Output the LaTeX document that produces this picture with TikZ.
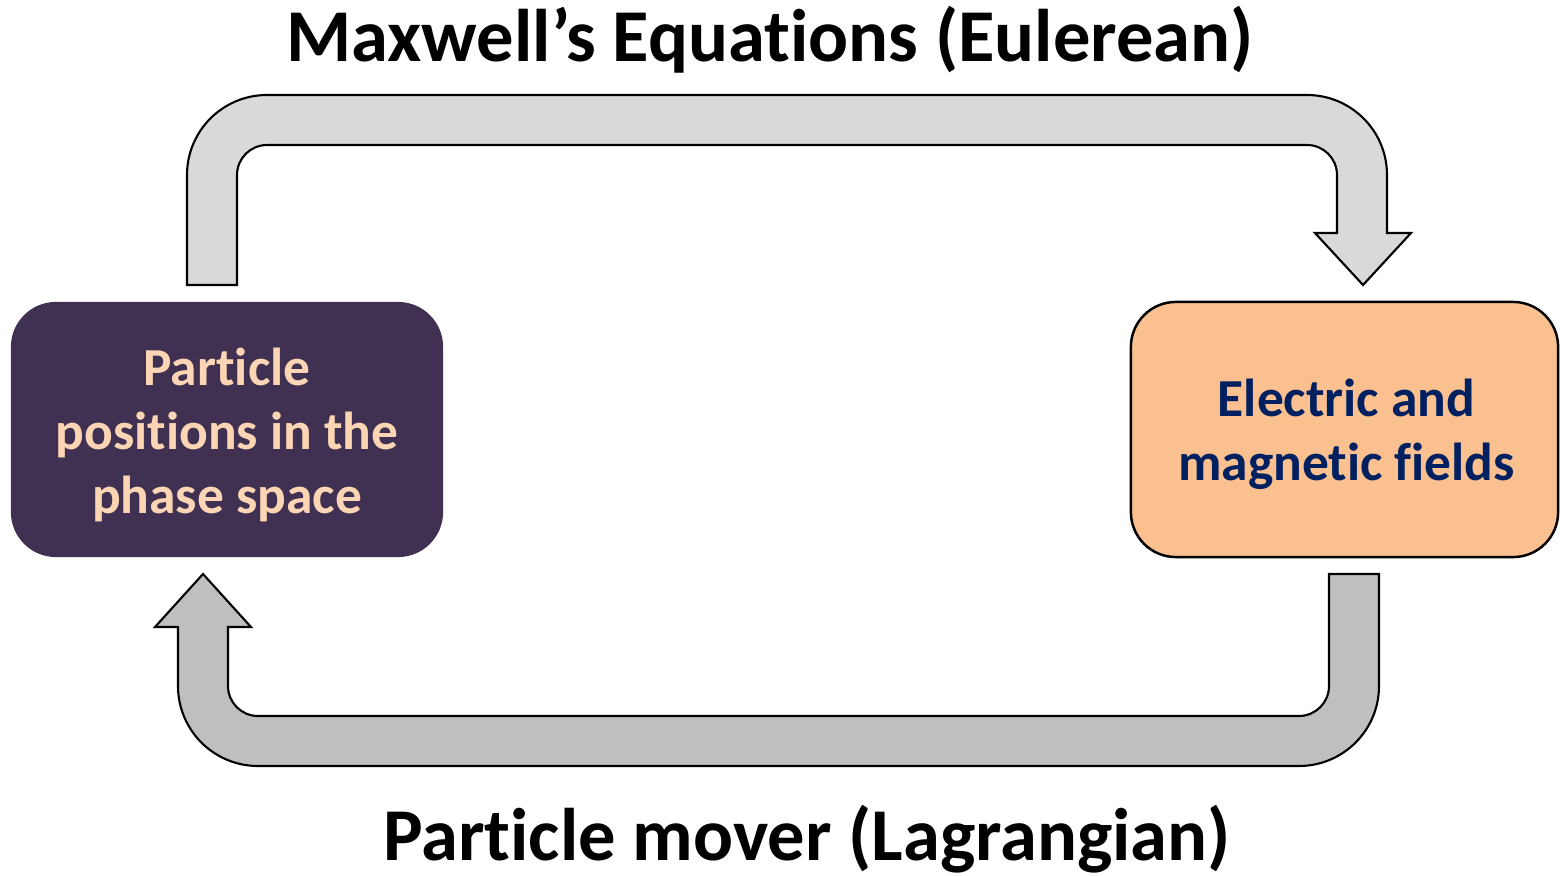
\documentclass[tikz,border=0pt]{standalone}
\usepackage{fontspec}
\setmainfont{Carlito}[Ligatures=NoCommon]
\usetikzlibrary{positioning,calc}
\definecolor{phasepurple}{RGB}{64,49,82}
\definecolor{phasepeach} {RGB}{252,213,181}
\definecolor{fieldorange}{RGB}{250,192,144}
\definecolor{fieldnavy}  {RGB}{0,32,96}
\definecolor{looplight}  {RGB}{217,217,217}
\definecolor{loopdark}   {RGB}{191,191,191}

\begin{document}
\begin{tikzpicture}[
  x=0.01cm,y=-0.01cm,
  headline/.style={font=\fontsize{21.2}{25}\selectfont\bfseries,anchor=base,inner sep=0pt},
  boxtext/.style={font=\fontsize{15.2}{18.2}\selectfont\bfseries,align=center},
  pbox/.style 2 args={rounded corners=0.45cm,minimum width=#1,minimum height=#2,
                      fill=phasepurple},
  fbox/.style 2 args={draw,line width=0.7pt,rounded corners=0.45cm,minimum width=#1,minimum height=#2,
                      fill=fieldorange},
  loop/.style={draw=black,line width=0.6pt,line join=miter},
]
\useasboundingbox (0,0) rectangle (1560,876);

%% ── Titles ───────────────────────────────────────────────────────────────────
\node[headline] (maxwell) at (770,62) {Maxwell’s Equations (Eulerean)};
\node[headline] (mover) at (807,860) {Particle mover (Lagrangian)};

%% ── Particle box ─────────────────────────────────────────────────────────────
\node[pbox={4.32cm}{2.55cm}] (phase) at (227,429.5) {};
\node[boxtext,phasepeach] (phasetext) at ([yshift=-0.05cm]phase)
  {Particle\\positions in the\\phase space};

%% ── Field box ────────────────────────────────────────────────────────────────
\node[fbox={4.27cm}{2.55cm}] (fields) at (1344.5,429.5) {};
\node[boxtext,fieldnavy] (fieldtext) at ([xshift=0.02cm,yshift=-0.05cm]fields)
  {Electric and\\magnetic fields};

%% ── Upper loop arrow: phase -> fields ────────────────────────────────────────
\path[loop,fill=looplight]
  (187,285) -- (187,175) arc[start angle=180,end angle=270,radius=80]
  -- (1307,95) arc[start angle=270,end angle=360,radius=80]
  -- (1387,233) -- (1411,233) -- (1363,285) -- (1315,233) -- (1337,233)
  -- (1337,175) arc[start angle=360,end angle=270,radius=30]
  -- (267,145) arc[start angle=270,end angle=180,radius=30]
  -- (237,285) -- cycle;

%% ── Lower loop arrow: fields -> phase ────────────────────────────────────────
\path[loop,fill=loopdark]
  (1379,574) -- (1379,686) arc[start angle=0,end angle=90,radius=80]
  -- (258,766) arc[start angle=90,end angle=180,radius=80]
  -- (178,627) -- (155,627) -- (203,574) -- (251,627) -- (228,627)
  -- (228,686) arc[start angle=180,end angle=90,radius=30]
  -- (1299,716) arc[start angle=90,end angle=0,radius=30]
  -- (1329,574) -- cycle;

\end{tikzpicture}
\end{document}
